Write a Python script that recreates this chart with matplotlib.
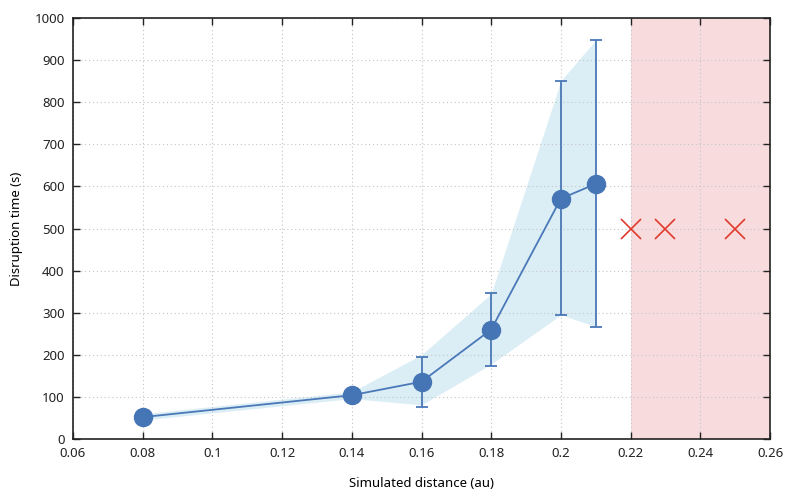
import matplotlib
matplotlib.use('Agg')
import matplotlib.pyplot as plt

plt.rcParams['font.family'] = ['Noto Sans', 'DejaVu Sans']
plt.rcParams['font.size'] = 9.5

# measured points
dist = [0.08, 0.14, 0.16, 0.18, 0.20, 0.21]
time = [52, 104, 136, 260, 571, 606]

# error bars (only some points have them)
err_dist = [0.16, 0.18, 0.20, 0.21]
err_time = [136, 260, 571, 606]
err_lo = [77, 173, 294, 267]
err_hi = [194, 347, 851, 948]

# spread band
band_lo = [45, 96, 81, 178, 295, 267]
band_hi = [60, 112, 200, 345, 851, 948]

# runs without disruption
fail_dist = [0.22, 0.23, 0.25]
fail_time = [500, 500, 500]

fig = plt.figure(figsize=(7.93, 4.96), dpi=100)
ax = fig.add_axes([73/793, 1 - 439/496, (770-73)/793, (439-18)/496])

ax.axvspan(0.22, 0.26, color='#f8dcdd', zorder=0, lw=0)
ax.fill_between(dist, band_lo, band_hi, color='#dbeef5', lw=0, zorder=1)

yerr = [[t - lo for t, lo in zip(err_time, err_lo)],
        [hi - t for t, hi in zip(err_time, err_hi)]]
ax.errorbar(err_dist, err_time, yerr=yerr, fmt='none', ecolor='#4a78b8',
            elinewidth=1.3, capsize=4, capthick=1.3, zorder=3)
ax.plot(dist, time, '-', color='#4a78b8', lw=1.3, zorder=4)
ax.plot(dist, time, 'o', color='#4575b4', ms=13, zorder=5)
ax.plot(fail_dist, fail_time, 'x', color='#e03a2f', ms=14, mew=1.2, zorder=5)

ax.set_xlim(0.06, 0.26)
ax.set_ylim(0, 1000)
ax.set_xticks([0.06, 0.08, 0.1, 0.12, 0.14, 0.16, 0.18, 0.2, 0.22, 0.24, 0.26])
ax.set_xticklabels(['0.06', '0.08', '0.1', '0.12', '0.14', '0.16', '0.18',
                    '0.2', '0.22', '0.24', '0.26'])
ax.set_yticks(range(0, 1001, 100))
ax.tick_params(direction='in', length=5, width=1, top=True, right=True,
               colors='#222222', labelcolor='#222222', pad=6)
ax.grid(True, linestyle=(0, (1, 2.5)), color='#c4c4c4', lw=0.8)
for s in ax.spines.values():
    s.set_linewidth(1.2)
    s.set_color('#222222')
ax.set_xlabel('Simulated distance (au)', labelpad=12)
ax.set_ylabel('Disruption time (s)', labelpad=8)

plt.savefig('out.png', dpi=100)
